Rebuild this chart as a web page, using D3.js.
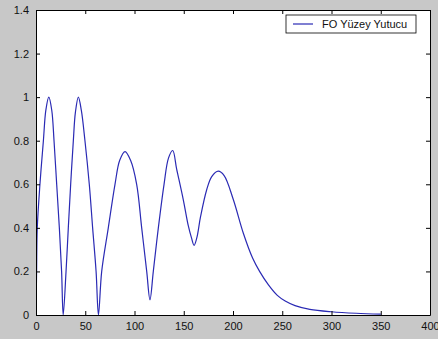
<!DOCTYPE html>
<html>
<head>
<meta charset="utf-8">
<script src="https://cdn.jsdelivr.net/npm/d3@7"></script>
<style>
  body { margin: 0; background: #c8c8c8; }
  svg { display: block; }
  text { font-family: "Liberation Sans", Arial, sans-serif; }
</style>
</head>
<body>
<div id="chart"></div>
<script>
// curve points
const xVals = [0, 0.6, 1.3, 4, 7.5, 10, 13, 16, 18.3, 21, 23.7, 26, 27.6,
  30.5, 32.8, 35.2, 37.9, 40, 43, 46, 49.7, 54.1, 57.5, 61, 63.4,
  66.7, 73.4, 80.2, 85, 90.4, 96, 102.2, 107.3, 112.4, 115.7,
  119.1, 124.2, 130, 134.5, 138.8, 142.8, 149.5, 154.6, 157.8, 160.5,
  163.3, 167, 173.3, 178.4, 185, 191, 200.3, 210.5, 220, 227, 236,
  245, 253, 263, 278, 300, 325, 350];
const yVals = [0, 0.2, 0.4, 0.6, 0.8, 0.94, 1.0, 0.94, 0.8, 0.6, 0.4, 0.2, 0,
  0.2, 0.4, 0.6, 0.8, 0.93, 1.0, 0.94, 0.8, 0.6, 0.4, 0.2, 0,
  0.2, 0.4, 0.6, 0.71, 0.75, 0.71, 0.6, 0.4, 0.2, 0.07,
  0.2, 0.4, 0.6, 0.72, 0.755, 0.67, 0.53, 0.41, 0.355, 0.32,
  0.355, 0.45, 0.575, 0.635, 0.66, 0.64, 0.53, 0.375, 0.26, 0.2, 0.138,
  0.09, 0.064, 0.043, 0.026, 0.015, 0.008, 0.004];
const xTicks = [0, 50, 100, 150, 200, 250, 300, 350, 400];
const yTicks = [0, 0.2, 0.4, 0.6, 0.8, 1, 1.2, 1.4];
const seriesName = "FO Yüzey Yutucu";

const W = 438, H = 339;
const margin = {top: 10, right: 8, bottom: 24, left: 36};
const width = W - margin.left - margin.right;
const height = H - margin.top - margin.bottom;

const svg = d3.select("#chart").append("svg")
    .attr("width", W)
    .attr("height", H);

const g = svg.append("g")
    .attr("transform", "translate(" + margin.left + "," + margin.top + ")");

const x = d3.scaleLinear().domain([0, 400]).range([0, width]);
const y = d3.scaleLinear().domain([0, 1.4]).range([height, 0]);

// white axes area
g.append("rect")
    .attr("width", width)
    .attr("height", height)
    .attr("fill", "#fff");

g.append("clipPath").attr("id", "clip")
  .append("rect").attr("width", width).attr("height", height);

const data = xVals.map((v, i) => ({x: v, y: yVals[i]}));

const line = d3.line()
    .x(d => x(d.x))
    .y(d => y(d.y))
    .curve(d3.curveCatmullRom.alpha(0.5));

g.append("path")
    .datum(data)
    .attr("clip-path", "url(#clip)")
    .attr("fill", "none")
    .attr("stroke", "#2a2ab4")
    .attr("stroke-width", 1.2)
    .attr("d", line);

// axes, ticks inside on all four sides
function styleAxis(sel) {
  sel.select(".domain").attr("stroke", "#000");
  sel.selectAll(".tick line").attr("stroke", "#000");
  sel.selectAll(".tick text")
      .attr("fill", "#111")
      .style("font-size", "11px");
}

g.append("g")
    .attr("transform", "translate(0," + height + ")")
    .call(d3.axisBottom(x).tickValues(xTicks).tickSizeInner(-4).tickSizeOuter(0).tickPadding(7))
    .call(styleAxis);

g.append("g")
    .call(d3.axisLeft(y).tickValues(yTicks).tickFormat(d3.format("")).tickSizeInner(-4).tickSizeOuter(0).tickPadding(7))
    .call(styleAxis);

g.append("g")
    .call(d3.axisTop(x).tickValues(xTicks).tickFormat("").tickSizeInner(-4).tickSizeOuter(0))
    .call(styleAxis);

g.append("g")
    .attr("transform", "translate(" + width + ",0)")
    .call(d3.axisRight(y).tickValues(yTicks).tickFormat("").tickSizeInner(-4).tickSizeOuter(0))
    .call(styleAxis);

// legend
const legend = g.append("g")
    .attr("transform", "translate(" + (286 - margin.left) + "," + (15 - margin.top) + ")");

legend.append("rect")
    .attr("width", 130)
    .attr("height", 18)
    .attr("fill", "#fff")
    .attr("stroke", "#000")
    .attr("stroke-width", 0.8);

legend.append("line")
    .attr("x1", 7).attr("x2", 27)
    .attr("y1", 9).attr("y2", 9)
    .attr("stroke", "#2a2ab4")
    .attr("stroke-width", 1.2);

legend.append("text")
    .attr("x", 36)
    .attr("y", 13)
    .style("font-size", "11px")
    .attr("fill", "#111")
    .text(seriesName);
</script>
</body>
</html>
